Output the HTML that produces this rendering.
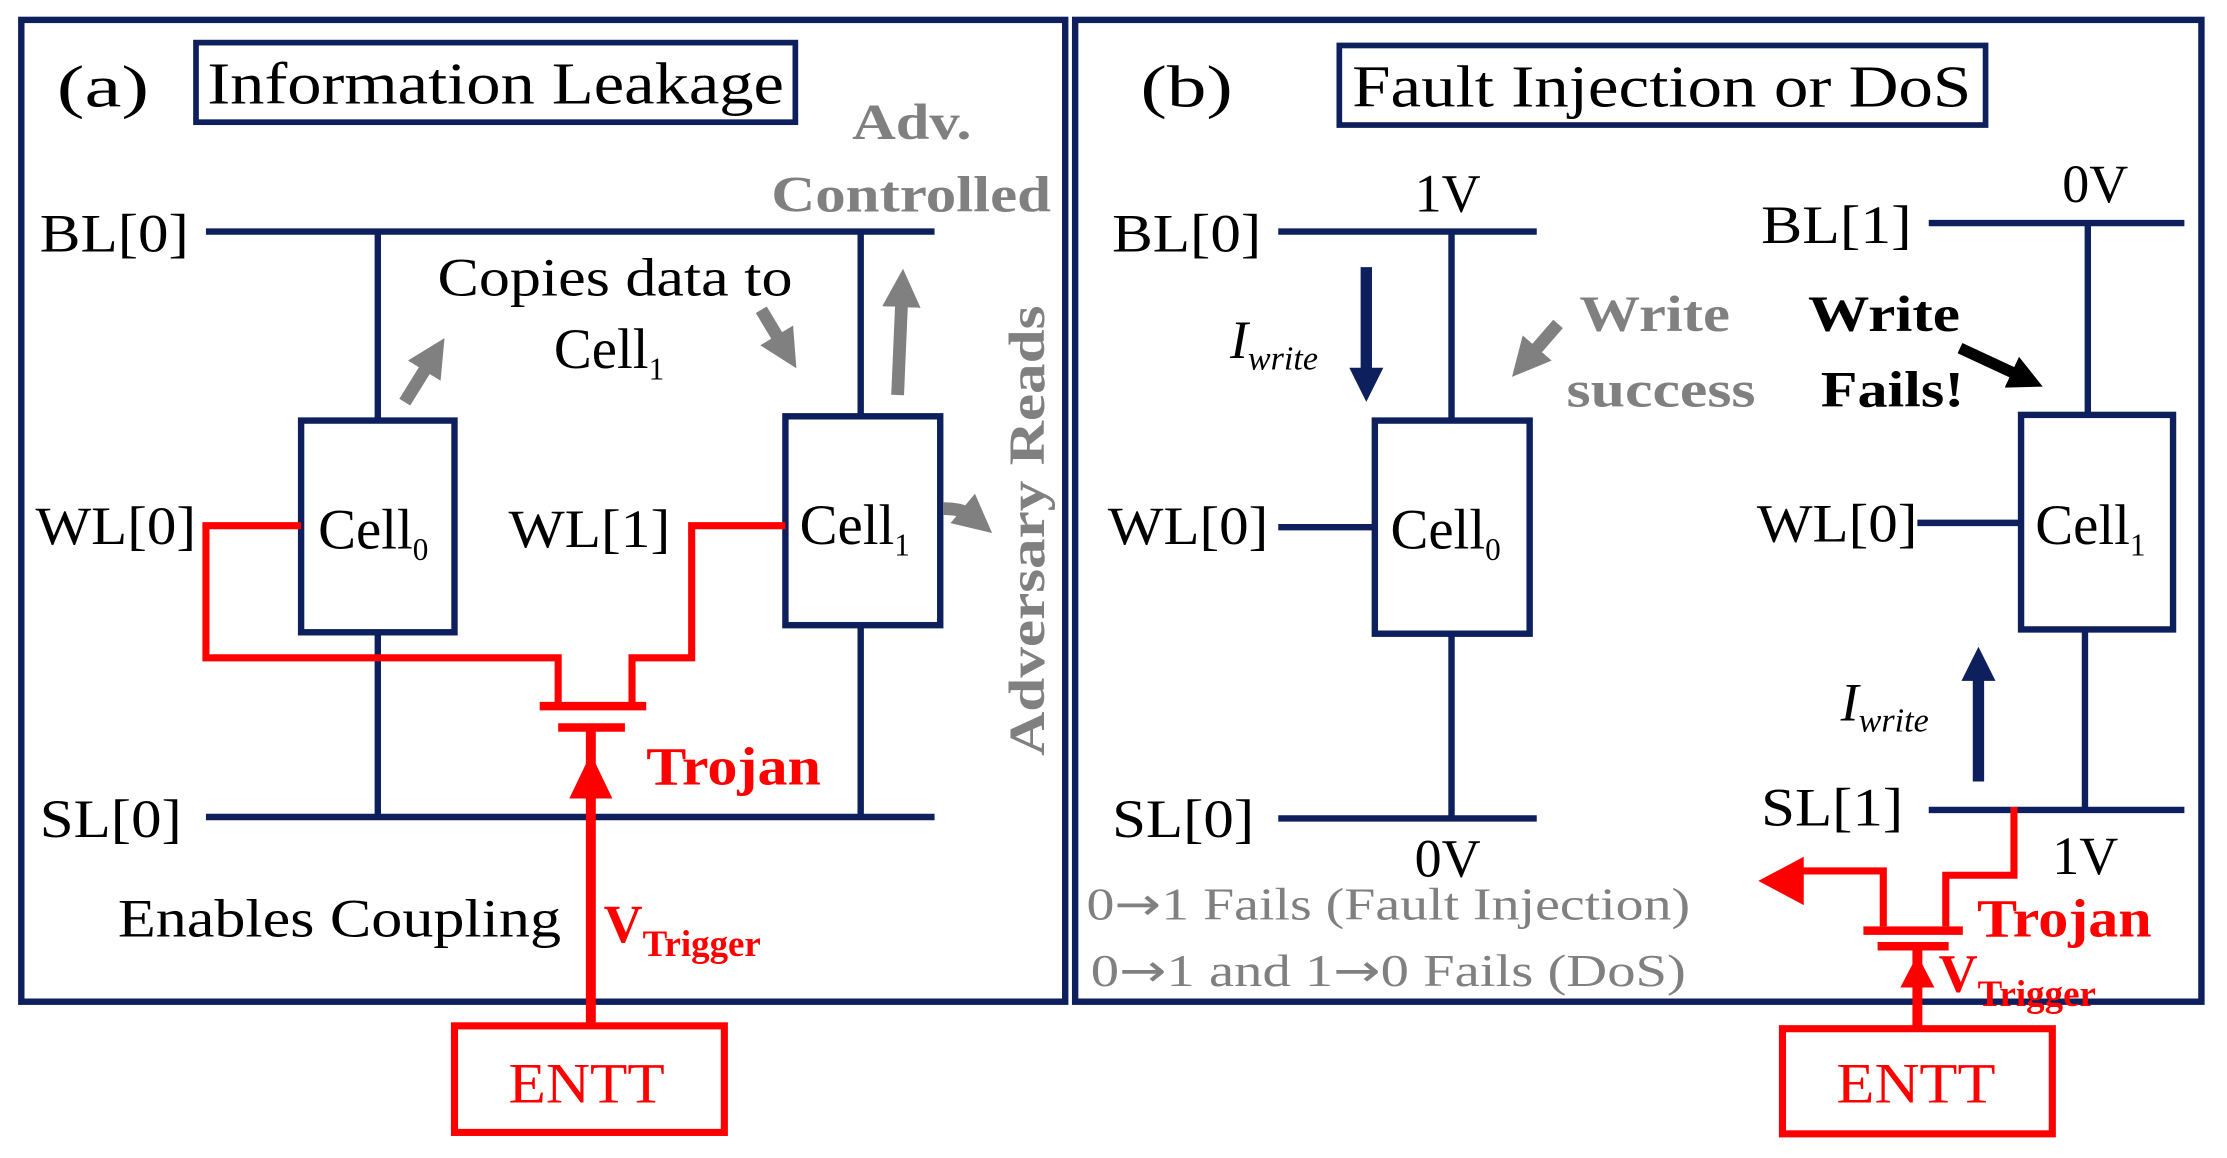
<!DOCTYPE html>
<html><head><meta charset="utf-8"><style>html,body{margin:0;padding:0;background:#fff}svg{display:block}text{font-family:"Liberation Serif","DejaVu Serif",serif}</style></head>
<body>
<svg width="2227" height="1158" viewBox="0 0 1568 815" preserveAspectRatio="none" xmlns="http://www.w3.org/2000/svg">
<defs>
<marker id="ga" viewBox="0 0 10 10" refX="3" refY="5" markerWidth="3" markerHeight="3" orient="auto"><path d="M0,0L10,5L0,10z" fill="#808080"/></marker>
<marker id="na" viewBox="0 0 10 10" refX="3" refY="5" markerWidth="3" markerHeight="3" orient="auto"><path d="M0,0L10,5L0,10z" fill="#0d1f5c"/></marker>
<marker id="ka" viewBox="0 0 10 10" refX="3" refY="5" markerWidth="3" markerHeight="3" orient="auto"><path d="M0,0L10,5L0,10z" fill="#000"/></marker>
</defs>
<g fill="none" stroke="#0d1f5c" stroke-width="4.5">
<rect x="15" y="14" width="735" height="691"/>
<rect x="757" y="14" width="793" height="691"/>
<rect x="138" y="30" width="422" height="56" stroke-width="4"/>
<rect x="943" y="32" width="455" height="56" stroke-width="4"/>
<path d="M145 163H658M266 163V296M606 163V293M145 575H658M266 445V575M606 440V575"/>
<rect x="212" y="296" width="108" height="149"/>
<rect x="553" y="293" width="109" height="147"/>
<path d="M900 163H1082M1022 163V296M900 371H968M1022 446V576M900 576H1082"/>
<rect x="968" y="296" width="109" height="150"/>
<path d="M1358 157H1538M1470 157V292M1350 368H1423M1468 443V570M1358 570H1538"/>
<rect x="1423" y="292" width="107" height="151"/>
</g>
<g stroke="#808080" stroke-width="9" fill="none">
<path d="M285 283L303 254" marker-end="url(#ga)"/>
<path d="M536 218L551 243" marker-end="url(#ga)"/>
<path d="M632 278L635 208" marker-end="url(#ga)"/>
<path d="M664 358Q678 358 684 363" marker-end="url(#ga)"/>
<path d="M1097 228L1077 251" marker-end="url(#ga)"/>
</g>
<g stroke="#0d1f5c" stroke-width="8" fill="none">
<path d="M962 188V266" marker-end="url(#na)"/>
<path d="M1393 550V472" marker-end="url(#na)"/>
</g>
<path d="M1380 245L1423 265" stroke="#000" stroke-width="8" marker-end="url(#ka)"/>
<g stroke="#f00" stroke-width="5" fill="none">
<path d="M212 370H145V463H393V497M445 497V463H487V370H553"/>
<path d="M380 497H455M393 512H440" stroke-width="6"/>
<path d="M416 512V720" stroke-width="7"/>
<rect x="320" y="722" width="190" height="75"/>
<path d="M1418 568V616H1370V652M1326 652V613H1268"/>
<path d="M1312 655H1382M1322 666H1372" stroke-width="6"/>
<path d="M1350 668V722" stroke-width="7"/>
<rect x="1255" y="724" width="190" height="74"/>
</g>
<path d="M404 560L416 535L428 560Z" fill="#f00" stroke="#f00" stroke-width="4"/>
<path d="M1338 695L1350 672L1362 695Z" fill="#f00"/>
<path d="M1238 620L1270 603V637Z" fill="#f00"/>
<g font-size="42" fill="#000">
<text x="40" y="75" textLength="65" lengthAdjust="spacingAndGlyphs">(a)</text>
<text x="146" y="73" textLength="406" lengthAdjust="spacingAndGlyphs">Information Leakage</text>
<text x="803" y="75" textLength="65" lengthAdjust="spacingAndGlyphs">(b)</text>
<text x="952" y="75" textLength="436" lengthAdjust="spacingAndGlyphs">Fault Injection or DoS</text>
</g>
<g font-size="38" fill="#000">
<text x="28" y="177" textLength="105" lengthAdjust="spacingAndGlyphs">BL[0]</text>
<text x="25" y="383" textLength="113" lengthAdjust="spacingAndGlyphs">WL[0]</text>
<text x="358" y="385" textLength="114" lengthAdjust="spacingAndGlyphs">WL[1]</text>
<text x="28" y="589" textLength="100" lengthAdjust="spacingAndGlyphs">SL[0]</text>
<text x="224" y="386" font-size="40">Cell<tspan font-size="22" dy="8">0</tspan></text>
<text x="563" y="383" font-size="40">Cell<tspan font-size="22" dy="8">1</tspan></text>
<text x="308" y="208" textLength="250" lengthAdjust="spacingAndGlyphs">Copies data to</text>
<text x="390" y="259" font-size="40">Cell<tspan font-size="22" dy="8">1</tspan></text>
<text x="83" y="659" textLength="312" lengthAdjust="spacingAndGlyphs">Enables Coupling</text>
<text x="783" y="177" textLength="105" lengthAdjust="spacingAndGlyphs">BL[0]</text>
<text x="780" y="383" textLength="113" lengthAdjust="spacingAndGlyphs">WL[0]</text>
<text x="783" y="589" textLength="100" lengthAdjust="spacingAndGlyphs">SL[0]</text>
<text x="996" y="149">1V</text>
<text x="996" y="617">0V</text>
<text x="979" y="386" font-size="40">Cell<tspan font-size="22" dy="8">0</tspan></text>
<text x="1240" y="171" textLength="106" lengthAdjust="spacingAndGlyphs">BL[1]</text>
<text x="1237" y="381" textLength="113" lengthAdjust="spacingAndGlyphs">WL[0]</text>
<text x="1240" y="581" textLength="100" lengthAdjust="spacingAndGlyphs">SL[1]</text>
<text x="1452" y="142">0V</text>
<text x="1445" y="615">1V</text>
<text x="1433" y="383" font-size="40">Cell<tspan font-size="22" dy="8">1</tspan></text>
<text x="866" y="252" font-style="italic">I<tspan font-size="24" dy="8">write</tspan></text>
<text x="1296" y="507" font-style="italic">I<tspan font-size="24" dy="8">write</tspan></text>
</g>
<g font-weight="bold" font-size="36" fill="#808080">
<text x="600" y="98" textLength="84" lengthAdjust="spacingAndGlyphs">Adv.</text>
<text x="543" y="149" textLength="197" lengthAdjust="spacingAndGlyphs">Controlled</text>
<text x="1112" y="233" textLength="106" lengthAdjust="spacingAndGlyphs">Write</text>
<text x="1103" y="286" textLength="133" lengthAdjust="spacingAndGlyphs">success</text>
<text transform="translate(735,532) rotate(-90)" textLength="317" lengthAdjust="spacingAndGlyphs">Adversary Reads</text>
</g>
<g font-weight="bold" font-size="36" fill="#000">
<text x="1273" y="233" textLength="107" lengthAdjust="spacingAndGlyphs">Write</text>
<text x="1282" y="286" textLength="101" lengthAdjust="spacingAndGlyphs">Fails!</text>
</g>
<g font-weight="bold" fill="#f00">
<text x="455" y="552" font-size="38" textLength="123" lengthAdjust="spacingAndGlyphs">Trojan</text>
<text x="425" y="663" font-size="38">V<tspan font-size="26" dy="10">Trigger</tspan></text>
<text x="1392" y="659" font-size="38" textLength="123" lengthAdjust="spacingAndGlyphs">Trojan</text>
<text x="1365" y="698" font-size="38">V<tspan font-size="26" dy="10">Trigger</tspan></text>
</g>
<g font-size="40" fill="#f00">
<text x="358" y="776" textLength="110" lengthAdjust="spacingAndGlyphs">ENTT</text>
<text x="1293" y="776" textLength="112" lengthAdjust="spacingAndGlyphs">ENTT</text>
</g>
<g font-size="32" fill="#808080">
<text x="765" y="647" textLength="425" lengthAdjust="spacingAndGlyphs">0<tspan font-family="DejaVu Sans">→</tspan>1 Fails (Fault Injection)</text>
<text x="768" y="694" textLength="419" lengthAdjust="spacingAndGlyphs">0<tspan font-family="DejaVu Sans">→</tspan>1 and 1<tspan font-family="DejaVu Sans">→</tspan>0 Fails (DoS)</text>
</g>
</svg>
</body></html>
